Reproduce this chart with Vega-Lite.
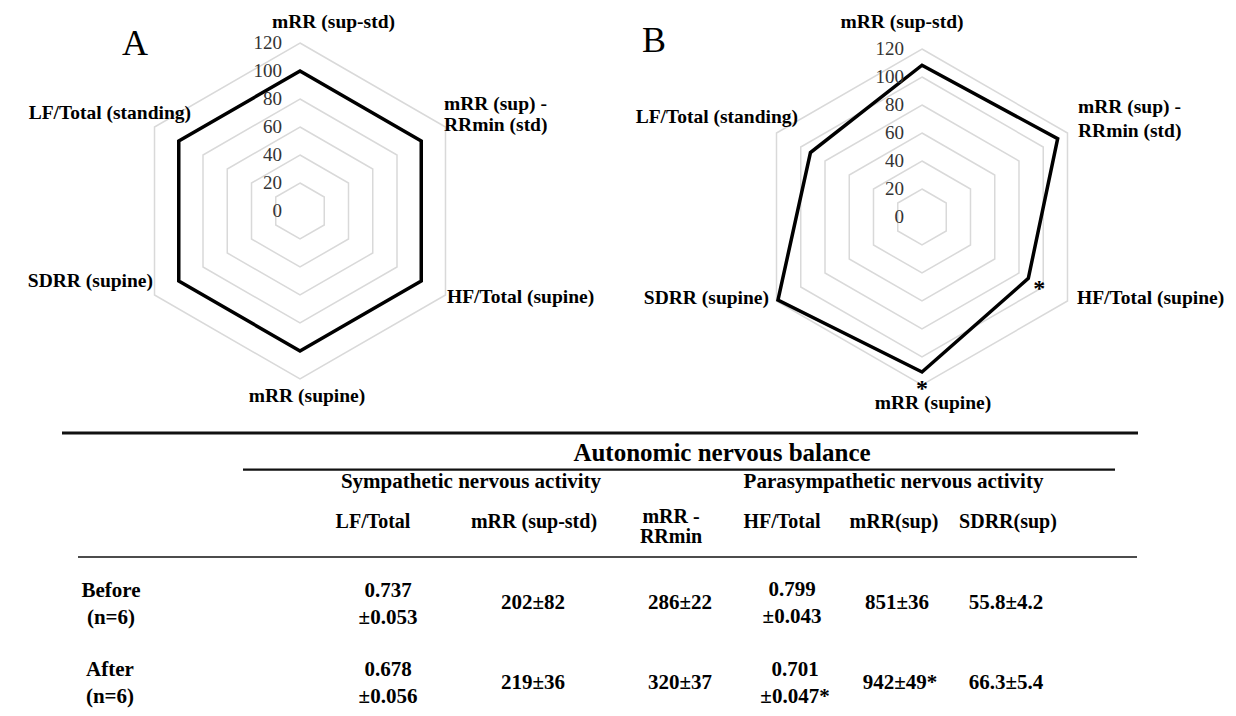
{
  "$schema": "https://vega.github.io/schema/vega-lite/v6.json",
  "padding": 0,
  "background": "white",
  "spacing": 0,
  "config": {"view": {"stroke": null}, "font": "Liberation Serif", "text": {"font": "Liberation Serif", "color": "#000"}},
  "datasets": {
    "radar": [
      {"chart": "A", "k": 0, "axis": "mRR (sup-std)", "value": 100},
      {"chart": "A", "k": 1, "axis": "mRR (sup) -\nRRmin (std)", "value": 100},
      {"chart": "A", "k": 2, "axis": "HF/Total (supine)", "value": 100},
      {"chart": "A", "k": 3, "axis": "mRR (supine)", "value": 100},
      {"chart": "A", "k": 4, "axis": "SDRR (supine)", "value": 100},
      {"chart": "A", "k": 5, "axis": "LF/Total (standing)", "value": 100},
      {"chart": "B", "k": 0, "axis": "mRR (sup-std)", "value": 108.4},
      {"chart": "B", "k": 1, "axis": "mRR (sup) -\nRRmin (std)", "value": 111.9},
      {"chart": "B", "k": 2, "axis": "HF/Total (supine)", "value": 87.7, "sig": "*"},
      {"chart": "B", "k": 3, "axis": "mRR (supine)", "value": 110.7, "sig": "*"},
      {"chart": "B", "k": 4, "axis": "SDRR (supine)", "value": 118.8},
      {"chart": "B", "k": 5, "axis": "LF/Total (standing)", "value": 92.0}
    ],
    "rings": [
      {"ring": 20, "k": [0, 1, 2, 3, 4, 5]},
      {"ring": 40, "k": [0, 1, 2, 3, 4, 5]},
      {"ring": 60, "k": [0, 1, 2, 3, 4, 5]},
      {"ring": 80, "k": [0, 1, 2, 3, 4, 5]},
      {"ring": 100, "k": [0, 1, 2, 3, 4, 5]},
      {"ring": 120, "k": [0, 1, 2, 3, 4, 5]}
    ],
    "ticks": [{"t": 0}, {"t": 20}, {"t": 40}, {"t": 60}, {"t": 80}, {"t": 100}, {"t": 120}],
    "tableText": [
      {"level": "title", "text": "Autonomic nervous balance", "x": 722, "y": 453},
      {"level": "group", "text": "Sympathetic nervous activity", "x": 471, "y": 482},
      {"level": "group", "text": "Parasympathetic nervous activity", "x": 893.5, "y": 482},
      {"level": "header", "text": "LF/Total", "x": 373, "y": 522},
      {"level": "header", "text": "mRR (sup-std)", "x": 534, "y": 522},
      {"level": "header", "text": "mRR -\nRRmin", "x": 671, "y": 527},
      {"level": "header", "text": "HF/Total", "x": 782, "y": 522},
      {"level": "header", "text": "mRR(sup)", "x": 894, "y": 522},
      {"level": "header", "text": "SDRR(sup)", "x": 1008, "y": 522},
      {"level": "row", "text": "Before\n(n=6)", "x": 111, "y": 604},
      {"level": "row", "text": "After\n(n=6)", "x": 110, "y": 683.5},
      {"level": "cell", "text": "0.737\n±0.053", "x": 388, "y": 604},
      {"level": "cell", "text": "202±82", "x": 533, "y": 603},
      {"level": "cell", "text": "286±22", "x": 680, "y": 603},
      {"level": "cell", "text": "0.799\n±0.043", "x": 792, "y": 603},
      {"level": "cell", "text": "851±36", "x": 897, "y": 603},
      {"level": "cell", "text": "55.8±4.2", "x": 1006, "y": 603},
      {"level": "cell", "text": "0.678\n±0.056", "x": 388, "y": 683.5},
      {"level": "cell", "text": "219±36", "x": 533, "y": 683},
      {"level": "cell", "text": "320±37", "x": 680, "y": 683},
      {"level": "cell", "text": "0.701\n±0.047*", "x": 795, "y": 683},
      {"level": "cell", "text": "942±49*", "x": 900, "y": 683},
      {"level": "cell", "text": "66.3±5.4", "x": 1006, "y": 683}
    ],
    "tableRules": [
      {"line": "top", "x": 62, "x2": 1138, "y": 433},
      {"line": "span", "x": 243, "x2": 1115, "y": 469.5},
      {"line": "header", "x": 78, "x2": 1137, "y": 557}
    ]
  },
  "vconcat": [
    {
      "spacing": 0,
      "bounds": "flush",
      "hconcat": [
        {
          "width": 618,
          "height": 420,
          "title": {"text": "A", "anchor": "start", "frame": "group", "orient": "top", "offset": 0, "fontSize": 36, "fontWeight": "normal", "font": "Liberation Serif", "color": "#000", "baseline": "alphabetic", "dx": 122, "dy": 91},
          "encoding": {
            "x": {"field": "px", "type": "quantitative", "scale": {"domain": [-214.29, 227.14], "nice": false, "zero": false}, "axis": null},
            "y": {"field": "py", "type": "quantitative", "scale": {"domain": [-149.29, 150.71], "nice": false, "zero": false}, "axis": null}
          },
          "layer": [
            {
              "data": {"name": "rings"},
              "transform": [
                {"flatten": ["k"]},
                {"calculate": "PI/2 - datum.k*PI/3", "as": "ang"},
                {"calculate": "datum.ring*cos(datum.ang)", "as": "px"},
                {"calculate": "datum.ring*sin(datum.ang)", "as": "py"}
              ],
              "mark": {"type": "line", "interpolate": "linear-closed", "color": "#d9d9d9", "strokeWidth": 1.5},
              "encoding": {"detail": {"field": "ring", "type": "nominal"}, "order": {"field": "k", "type": "quantitative"}}
            },
            {
              "data": {"name": "radar"},
              "transform": [
                {"filter": "datum.chart == 'A'"},
                {"calculate": "PI/2 - datum.k*PI/3", "as": "ang"},
                {"calculate": "datum.value*cos(datum.ang)", "as": "px"},
                {"calculate": "datum.value*sin(datum.ang)", "as": "py"}
              ],
              "mark": {"type": "line", "interpolate": "linear-closed", "color": "#000", "strokeWidth": 3.5, "strokeJoin": "miter"},
              "encoding": {"order": {"field": "k", "type": "quantitative"}}
            },
            {
              "data": {"name": "ticks"},
              "transform": [{"calculate": "0", "as": "px"}, {"calculate": "datum.t", "as": "py"}],
              "mark": {"type": "text", "align": "right", "baseline": "middle", "dx": -18, "fontSize": 19, "color": "#333333"},
              "encoding": {"text": {"field": "t", "type": "quantitative"}}
            },
            {
              "data": {"name": "radar"},
              "transform": [
                {"filter": "datum.chart == 'A'"},
                {"calculate": "PI/2 - datum.k*PI/3", "as": "ang"},
                {"calculate": "120*cos(datum.ang)", "as": "px"},
                {"calculate": "120*sin(datum.ang)", "as": "py"}
              ],
              "layer": [
                {"transform": [{"filter": "datum.k == 0"}], "mark": {"type": "text", "align": "center", "baseline": "middle", "dx": 33.5, "dy": -20.5, "fontSize": 19.5, "fontWeight": "bold"}, "encoding": {"text": {"field": "axis"}}},
                {"transform": [{"filter": "datum.k == 1"}], "mark": {"type": "text", "align": "left", "baseline": "middle", "dx": -1.5, "dy": -23, "fontSize": 19.5, "fontWeight": "bold", "lineBreak": "\n", "lineHeight": 21}, "encoding": {"text": {"field": "axis"}}},
                {"transform": [{"filter": "datum.k == 2"}], "mark": {"type": "text", "align": "left", "baseline": "middle", "dx": 1.5, "dy": 2, "fontSize": 19.5, "fontWeight": "bold"}, "encoding": {"text": {"field": "axis"}}},
                {"transform": [{"filter": "datum.k == 3"}], "mark": {"type": "text", "align": "center", "baseline": "middle", "dx": 7, "dy": 17, "fontSize": 19.5, "fontWeight": "bold"}, "encoding": {"text": {"field": "axis"}}},
                {"transform": [{"filter": "datum.k == 4"}], "mark": {"type": "text", "align": "right", "baseline": "middle", "dx": -1.5, "dy": -14, "fontSize": 19.5, "fontWeight": "bold"}, "encoding": {"text": {"field": "axis"}}},
                {"transform": [{"filter": "datum.k == 5"}], "mark": {"type": "text", "align": "right", "baseline": "middle", "dx": 36.5, "dy": -14, "fontSize": 19.5, "fontWeight": "bold"}, "encoding": {"text": {"field": "axis"}}}
              ]
            }
          ]
        },
        {
          "width": 618,
          "height": 420,
          "title": {"text": "B", "anchor": "start", "frame": "group", "orient": "top", "offset": 0, "fontSize": 36, "fontWeight": "normal", "font": "Liberation Serif", "color": "#000", "baseline": "alphabetic", "dx": 24, "dy": 88},
          "encoding": {
            "x": {"field": "px", "type": "quantitative", "scale": {"domain": [-217.14, 224.29], "nice": false, "zero": false}, "axis": null},
            "y": {"field": "py", "type": "quantitative", "scale": {"domain": [-145, 155], "nice": false, "zero": false}, "axis": null}
          },
          "layer": [
            {
              "data": {"name": "rings"},
              "transform": [
                {"flatten": ["k"]},
                {"calculate": "PI/2 - datum.k*PI/3", "as": "ang"},
                {"calculate": "datum.ring*cos(datum.ang)", "as": "px"},
                {"calculate": "datum.ring*sin(datum.ang)", "as": "py"}
              ],
              "mark": {"type": "line", "interpolate": "linear-closed", "color": "#d9d9d9", "strokeWidth": 1.5},
              "encoding": {"detail": {"field": "ring", "type": "nominal"}, "order": {"field": "k", "type": "quantitative"}}
            },
            {
              "data": {"name": "radar"},
              "transform": [
                {"filter": "datum.chart == 'B'"},
                {"calculate": "PI/2 - datum.k*PI/3", "as": "ang"},
                {"calculate": "datum.value*cos(datum.ang)", "as": "px"},
                {"calculate": "datum.value*sin(datum.ang)", "as": "py"}
              ],
              "mark": {"type": "line", "interpolate": "linear-closed", "color": "#000", "strokeWidth": 3.5, "strokeJoin": "miter"},
              "encoding": {"order": {"field": "k", "type": "quantitative"}}
            },
            {
              "data": {"name": "ticks"},
              "transform": [{"calculate": "0", "as": "px"}, {"calculate": "datum.t", "as": "py"}],
              "mark": {"type": "text", "align": "right", "baseline": "middle", "dx": -18, "fontSize": 19, "color": "#333333"},
              "encoding": {"text": {"field": "t", "type": "quantitative"}}
            },
            {
              "data": {"name": "radar"},
              "transform": [
                {"filter": "datum.chart == 'B' && datum.sig"},
                {"calculate": "PI/2 - datum.k*PI/3", "as": "ang"},
                {"calculate": "(datum.value + 9)*cos(datum.ang)", "as": "px"},
                {"calculate": "(datum.value + 9)*sin(datum.ang)", "as": "py"}
              ],
              "mark": {"type": "text", "align": "center", "baseline": "middle", "dy": 4, "fontSize": 24, "fontWeight": "bold"},
              "encoding": {"text": {"field": "sig"}}
            },
            {
              "data": {"name": "radar"},
              "transform": [
                {"filter": "datum.chart == 'B'"},
                {"calculate": "PI/2 - datum.k*PI/3", "as": "ang"},
                {"calculate": "120*cos(datum.ang)", "as": "px"},
                {"calculate": "120*sin(datum.ang)", "as": "py"}
              ],
              "layer": [
                {"transform": [{"filter": "datum.k == 0"}], "mark": {"type": "text", "align": "center", "baseline": "middle", "dx": -20, "dy": -27, "fontSize": 19.5, "fontWeight": "bold"}, "encoding": {"text": {"field": "axis"}}},
                {"transform": [{"filter": "datum.k == 1"}], "mark": {"type": "text", "align": "left", "baseline": "middle", "dx": 10.5, "dy": -26.3, "fontSize": 19.5, "fontWeight": "bold", "lineBreak": "\n", "lineHeight": 24}, "encoding": {"text": {"field": "axis"}}},
                {"transform": [{"filter": "datum.k == 2"}], "mark": {"type": "text", "align": "left", "baseline": "middle", "dx": 9.5, "dy": -3, "fontSize": 19.5, "fontWeight": "bold"}, "encoding": {"text": {"field": "axis"}}},
                {"transform": [{"filter": "datum.k == 3"}], "mark": {"type": "text", "align": "center", "baseline": "middle", "dx": 11, "dy": 18, "fontSize": 19.5, "fontWeight": "bold"}, "encoding": {"text": {"field": "axis"}}},
                {"transform": [{"filter": "datum.k == 4"}], "mark": {"type": "text", "align": "right", "baseline": "middle", "dx": -7.5, "dy": -3, "fontSize": 19.5, "fontWeight": "bold"}, "encoding": {"text": {"field": "axis"}}},
                {"transform": [{"filter": "datum.k == 5"}], "mark": {"type": "text", "align": "right", "baseline": "middle", "dx": 21.5, "dy": -16, "fontSize": 19.5, "fontWeight": "bold"}, "encoding": {"text": {"field": "axis"}}}
              ]
            }
          ]
        }
      ]
    },
    {
      "width": 1236,
      "height": 296,
      "encoding": {
        "x": {"field": "x", "type": "quantitative", "scale": {"domain": [0, 1236], "nice": false, "zero": false}, "axis": null},
        "y": {"field": "y", "type": "quantitative", "scale": {"domain": [420, 716], "reverse": true, "nice": false, "zero": false}, "axis": null}
      },
      "layer": [
        {
          "data": {"name": "tableRules"},
          "mark": {"type": "rule", "color": "#111"},
          "encoding": {
            "x2": {"field": "x2"},
            "strokeWidth": {"field": "line", "type": "nominal", "scale": {"domain": ["top", "span", "header"], "range": [3, 1.5, 2]}, "legend": null}
          }
        },
        {
          "data": {"name": "tableText"},
          "layer": [
            {"transform": [{"filter": "datum.level == 'title'"}], "mark": {"type": "text", "align": "center", "baseline": "middle", "fontSize": 25, "fontWeight": "bold"}, "encoding": {"text": {"field": "text"}}},
            {"transform": [{"filter": "datum.level == 'group'"}], "mark": {"type": "text", "align": "center", "baseline": "middle", "fontSize": 21, "fontWeight": "bold"}, "encoding": {"text": {"field": "text"}}},
            {"transform": [{"filter": "datum.level == 'header' && indexof(datum.text, '\\n') < 0"}], "mark": {"type": "text", "align": "center", "baseline": "middle", "fontSize": 20, "fontWeight": "bold"}, "encoding": {"text": {"field": "text"}}},
            {"transform": [{"filter": "datum.level == 'header' && indexof(datum.text, '\\n') >= 0"}], "mark": {"type": "text", "align": "center", "baseline": "middle", "dy": -10, "fontSize": 20, "fontWeight": "bold", "lineBreak": "\n", "lineHeight": 20}, "encoding": {"text": {"field": "text"}}},
            {"transform": [{"filter": "(datum.level == 'row' || datum.level == 'cell') && indexof(datum.text, '\\n') < 0"}], "mark": {"type": "text", "align": "center", "baseline": "middle", "fontSize": 21, "fontWeight": "bold"}, "encoding": {"text": {"field": "text"}}},
            {"transform": [{"filter": "(datum.level == 'row' || datum.level == 'cell') && indexof(datum.text, '\\n') >= 0"}], "mark": {"type": "text", "align": "center", "baseline": "middle", "dy": -13.5, "fontSize": 21, "fontWeight": "bold", "lineBreak": "\n", "lineHeight": 27}, "encoding": {"text": {"field": "text"}}}
          ]
        }
      ]
    }
  ]
}
